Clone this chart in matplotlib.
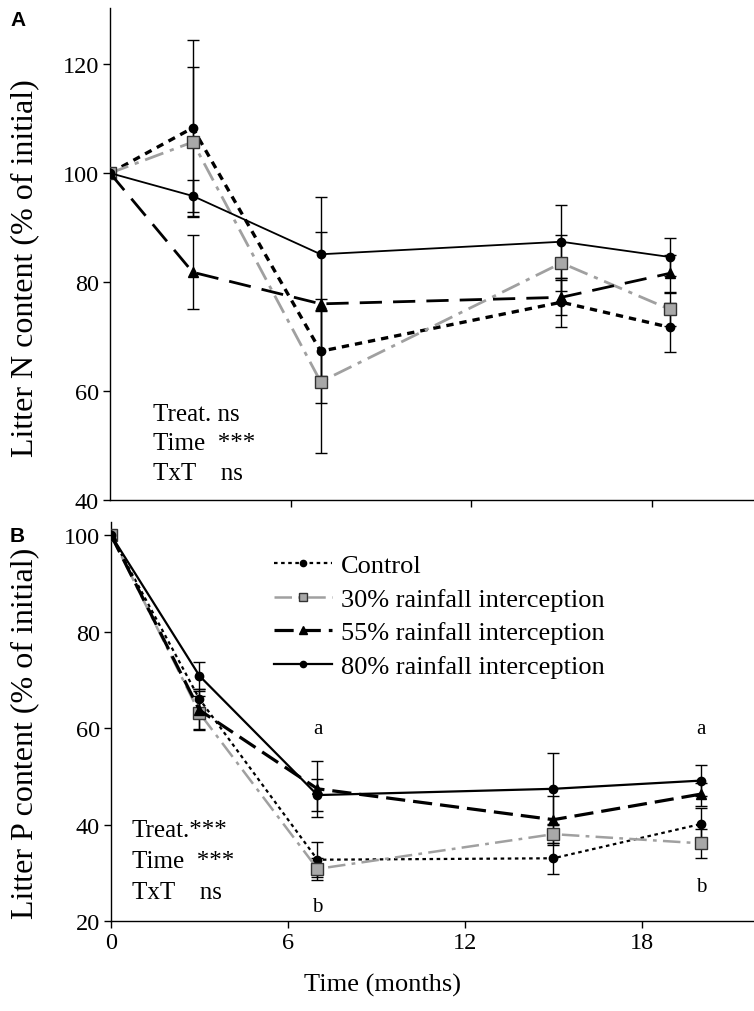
import matplotlib
matplotlib.use('Agg')
import matplotlib.pyplot as plt
import numpy as np

# ── Data ─────────────────────────────────────────────────────────────────────
months_a = [0, 2.75, 7, 15, 18.6]
months_b = [0, 3, 7, 15, 20]

n_control = [100, 108.3, 67.3, 76.3, 71.7]
n_control_err = [0, 16.1, 9.5, 4.5, 4.5]
n_30 = [100, 105.7, 61.7, 83.5, 75.0]
n_30_err = [0, 13.8, 13.1, 5.2, 3.0]
n_55 = [100, 81.8, 76.0, 77.2, 81.6]
n_55_err = [0, 6.8, 13.2, 3.2, 3.4]
n_80 = [100, 95.8, 85.1, 87.4, 84.6]
n_80_err = [0, 3.0, 10.5, 6.7, 3.5]

p_control = [100, 66.0, 32.7, 33.0, 40.1]
p_control_err = [0, 2.0, 3.6, 3.2, 3.3]
p_30 = [100, 63.1, 30.8, 38.0, 36.1]
p_30_err = [0, 3.6, 2.2, 2.2, 3.0]
p_55 = [100, 63.7, 47.4, 41.0, 46.3]
p_55_err = [0, 4.0, 5.8, 4.9, 2.4]
p_80 = [100, 70.8, 46.1, 47.4, 49.1]
p_80_err = [0, 2.8, 3.4, 7.4, 3.2]

labels = ['Control', '30% rainfall interception',
          '55% rainfall interception', '80% rainfall interception']

plt.rcParams['font.family'] = ['Liberation Serif', 'DejaVu Serif']

W, H = 754, 1012
fig = plt.figure(figsize=(W / 100, H / 100), dpi=100)

def px(x, y):
    return x / W, 1 - y / H

ax_a = fig.add_axes([110 / W, 1 - 501 / H, 1 - 110 / W, (501 - 9) / H])
ax_b = fig.add_axes([111 / W, 1 - 922 / H, 1 - 111 / W, (922 - 523) / H])

GRAY = '#a0a0a0'
SQ_FILL = '#a8a8a8'

styles_a = [
    dict(color='black', lw=2.4, ls=(0, (2.2, 1.8)), marker='o', ms=6, mfc='black', mec='black'),
    dict(color=GRAY, lw=2.0, ls=(0, (7, 2.5, 1.5, 2.5)), marker='s', ms=8, mfc=SQ_FILL, mec='#333333', mew=1),
    dict(color='black', lw=2.0, ls=(0, (8, 4)), marker='^', ms=7, mfc='black', mec='black'),
    dict(color='black', lw=1.3, ls='-', marker='o', ms=6, mfc='black', mec='black'),
]
styles_b = [
    dict(color='black', lw=1.6, ls=(0, (1.6, 1.6)), marker='o', ms=6, mfc='black', mec='black'),
    dict(color=GRAY, lw=1.8, ls=(0, (7, 2.5, 1.5, 2.5)), marker='s', ms=8, mfc=SQ_FILL, mec='#333333', mew=1),
    dict(color='black', lw=2.3, ls=(0, (6, 2.5)), marker='^', ms=7, mfc='black', mec='black'),
    dict(color='black', lw=1.6, ls='-', marker='o', ms=6, mfc='black', mec='black'),
]

series_a = [(n_control, n_control_err), (n_30, n_30_err), (n_55, n_55_err), (n_80, n_80_err)]
series_b = [(p_control, p_control_err), (p_30, p_30_err), (p_55, p_55_err), (p_80, p_80_err)]

handles = []
for ax, xs, series, styles in [(ax_a, months_a, series_a, styles_a),
                               (ax_b, months_b, series_b, styles_b)]:
    for (vals, errs), st, lab in zip(series, styles, labels):
        ax.errorbar(xs, vals, yerr=errs, fmt='none', ecolor='black',
                    elinewidth=1.0, capsize=4, capthick=1.0, zorder=2)
    hs = []
    for (vals, errs), st, lab in zip(series, styles, labels):
        h, = ax.plot(xs, vals, label=lab, zorder=3, **st)
        hs.append(h)
    if ax is ax_b:
        handles = hs

for ax in (ax_a, ax_b):
    for s in ('top', 'right'):
        ax.spines[s].set_visible(False)
    for s in ('left', 'bottom'):
        ax.spines[s].set_linewidth(1.0)
    ax.tick_params(direction='out', length=5, width=1.0, labelsize=17.5, pad=3)

ax_a.set_xlim(0, 21.4)
ax_a.set_ylim(40, 130.3)
ax_a.set_yticks([40, 60, 80, 100, 120])
ax_a.set_xticks([6, 12, 18])
ax_a.set_xticklabels([])

ax_b.set_xlim(0, 21.8)
ax_b.set_ylim(20, 102.7)
ax_b.set_yticks([20, 40, 60, 80, 100])
ax_b.set_xticks([0, 6, 12, 18])

# axis labels
fig.text(*px(25, 268), 'Litter N content (% of initial)', rotation=90,
         ha='center', va='center', fontsize=23)
fig.text(*px(25, 733), 'Litter P content (% of initial)', rotation=90,
         ha='center', va='center', fontsize=23)
fig.text(*px(383, 985), 'Time (months)', ha='center', va='center', fontsize=19)

# panel letters
fig.text(*px(10, 20), 'A', fontsize=15, fontweight='bold',
         family='Liberation Sans', ha='left', va='center')
fig.text(*px(10, 536), 'B', fontsize=15, fontweight='bold',
         family='Liberation Sans', ha='left', va='center')

# statistics
for i, line in enumerate(['Treat. ns', 'Time  ***', 'TxT    ns']):
    fig.text(*px(153, 415 + 29.5 * i), line, fontsize=18, ha='left', va='center')
for i, line in enumerate(['Treat.***', 'Time  ***', 'TxT    ns']):
    fig.text(*px(132, 831 + 31 * i), line, fontsize=18, ha='left', va='center')

# significance letters
ax_b.text(7, 60, 'a', fontsize=15, ha='center', va='center')
ax_b.text(20, 60, 'a', fontsize=15, ha='center', va='center')
ax_b.text(7, 23, 'b', fontsize=15, ha='center', va='center')
ax_b.text(20, 27.2, 'b', fontsize=15, ha='center', va='center')

ax_b.legend(handles=handles, loc='upper left', bbox_to_anchor=px(274, 555),
            bbox_transform=fig.transFigure, frameon=False, fontsize=19,
            handlelength=2.2, handletextpad=0.35, labelspacing=0.38,
            markerscale=0.75, borderpad=0, borderaxespad=0)

fig.savefig('out.png', dpi=100)
